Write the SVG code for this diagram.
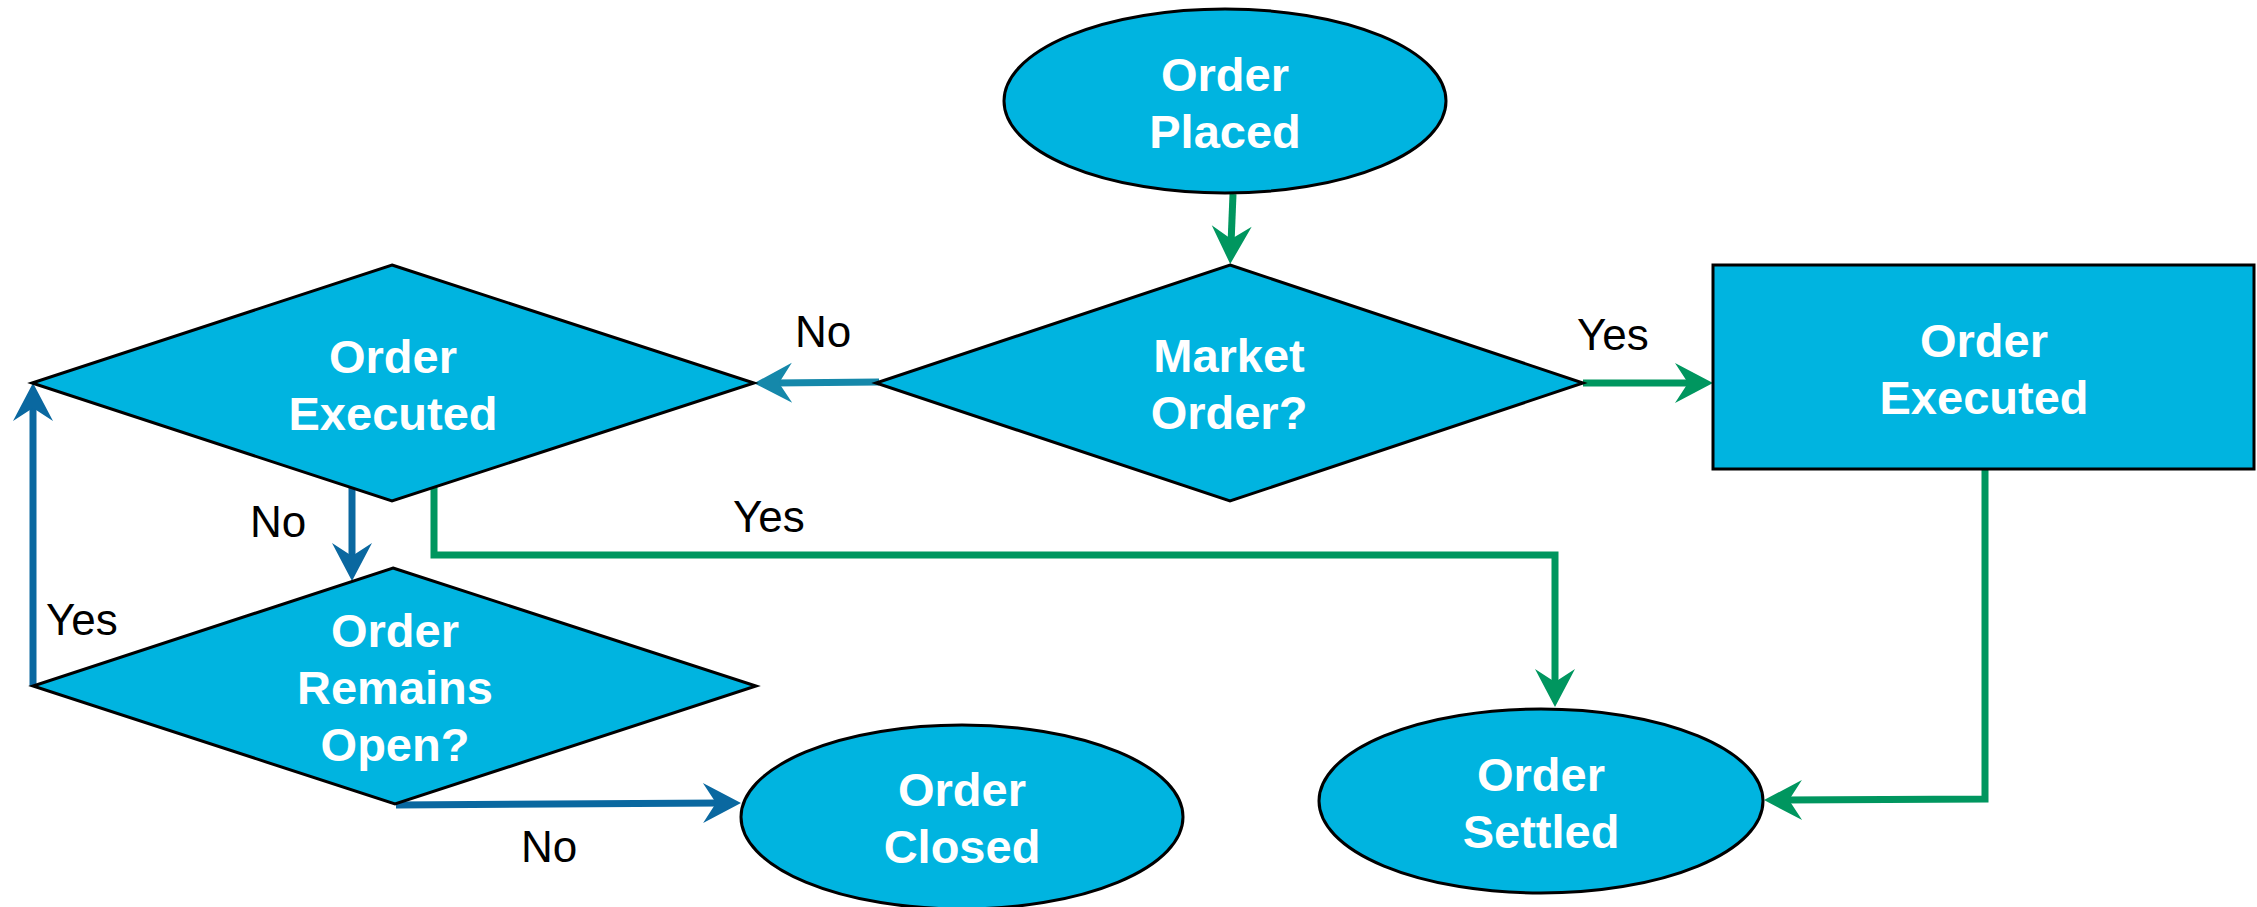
<svg xmlns="http://www.w3.org/2000/svg" width="2257" height="907" viewBox="0 0 2257 907">
  <style>
    .shape { fill: #00B4E0; stroke: #000000; stroke-width: 3; }
    .node-text { font-family: "Liberation Sans", Arial, sans-serif; font-weight: bold; font-size: 47px; fill: #FFFFFF; text-anchor: middle; }
    .label { font-family: "Liberation Sans", Arial, sans-serif; font-size: 44px; fill: #000000; }
    .wire { fill: none; stroke-width: 7; stroke-linejoin: miter; }
    .green { stroke: #00965F; }
    .blue { stroke: #0A68A0; }
    .teal { stroke: #1588AA; }
  </style>
  <defs>
    <marker id="head-green" viewBox="-42 -22 44 44" refX="-20" refY="0" markerWidth="44" markerHeight="44" markerUnits="userSpaceOnUse" orient="auto">
      <path d="M0,0 L-38,-20 L-25,0 L-38,20 Z" fill="#00965F"/>
    </marker>
    <marker id="head-blue" viewBox="-42 -22 44 44" refX="-20" refY="0" markerWidth="44" markerHeight="44" markerUnits="userSpaceOnUse" orient="auto">
      <path d="M0,0 L-38,-20 L-25,0 L-38,20 Z" fill="#0A68A0"/>
    </marker>
    <marker id="head-teal" viewBox="-42 -22 44 44" refX="-20" refY="0" markerWidth="44" markerHeight="44" markerUnits="userSpaceOnUse" orient="auto">
      <path d="M0,0 L-38,-20 L-25,0 L-38,20 Z" fill="#1588AA"/>
    </marker>
  </defs>

  <rect width="2257" height="907" fill="#FFFFFF"/>

  <!-- connectors -->
  <g id="connectors">
    <path class="wire green" d="M1233,194 L1231,244" marker-end="url(#head-green)"/>
    <path class="wire green" d="M1583,383 L1693,383" marker-end="url(#head-green)"/>
    <path class="wire teal" d="M879,382 L774,383" marker-end="url(#head-teal)"/>
    <path class="wire blue" d="M352,488 L352,561" marker-end="url(#head-blue)"/>
    <path class="wire green" d="M434,487 L434,555 L1555,555 L1555,687" marker-end="url(#head-green)"/>
    <path class="wire green" d="M1985,469 L1985,799 L1784,800" marker-end="url(#head-green)"/>
    <path class="wire blue" stroke-width="6" d="M33,686 L33,403" marker-end="url(#head-blue)"/>
    <path class="wire blue" d="M396,805 L721,803" marker-end="url(#head-blue)"/>
  </g>

  <!-- edge labels -->
  <g id="edge-labels">
    <text class="label" x="795" y="347">No</text>
    <text class="label" x="1577" y="350">Yes</text>
    <text class="label" x="733" y="532">Yes</text>
    <text class="label" x="250" y="537">No</text>
    <text class="label" x="46" y="635">Yes</text>
    <text class="label" x="521" y="862">No</text>
  </g>

  <g id="order-placed">
    <ellipse class="shape" cx="1225" cy="101" rx="221" ry="92"/>
    <text class="node-text" x="1225" y="91">Order</text>
    <text class="node-text" x="1225" y="148">Placed</text>
  </g>

  <g id="market-order">
    <polygon class="shape" points="1230,265 1583,383 1230,501 876,383"/>
    <text class="node-text" x="1229" y="372">Market</text>
    <text class="node-text" x="1229" y="429">Order?</text>
  </g>

  <g id="order-executed-box">
    <rect class="shape" x="1713" y="265" width="541" height="204"/>
    <text class="node-text" x="1984" y="357">Order</text>
    <text class="node-text" x="1984" y="414">Executed</text>
  </g>

  <g id="order-executed-check">
    <polygon class="shape" points="392,265 754,383 392,501 32,383"/>
    <text class="node-text" x="393" y="373">Order</text>
    <text class="node-text" x="393" y="430">Executed</text>
  </g>

  <g id="order-remains-open">
    <polygon class="shape" points="393,568 756,686 395,804 33,686"/>
    <text class="node-text" x="395" y="647">Order</text>
    <text class="node-text" x="395" y="704">Remains</text>
    <text class="node-text" x="395" y="761">Open?</text>
  </g>

  <g id="order-closed">
    <ellipse class="shape" cx="962" cy="817" rx="221" ry="92"/>
    <text class="node-text" x="962" y="806">Order</text>
    <text class="node-text" x="962" y="863">Closed</text>
  </g>

  <g id="order-settled">
    <ellipse class="shape" cx="1541" cy="801" rx="222" ry="92"/>
    <text class="node-text" x="1541" y="791">Order</text>
    <text class="node-text" x="1541" y="848">Settled</text>
  </g>
</svg>
